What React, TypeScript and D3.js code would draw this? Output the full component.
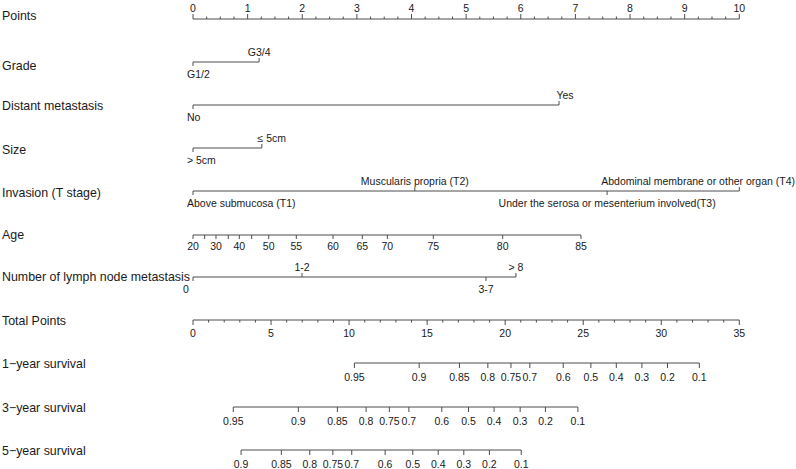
import React from 'react';
import * as d3 from 'd3';

// ---- Data ----
const pointsTicks = [0, 1, 2, 3, 4, 5, 6, 7, 8, 9, 10];
const pointsMinor = [0.25, 0.5, 0.75, 1.25, 1.5, 1.75, 2.25, 2.5, 2.75, 3.25, 3.5, 3.75, 4.25, 4.5, 4.75, 5.25, 5.5, 5.75, 6.25, 6.5, 6.75, 7.25, 7.5, 7.75, 8.25, 8.5, 8.75, 9.25, 9.5, 9.75];

const gradeLevels = ['G1/2', 'G3/4'];
const gradePoints = [0, 1.21];

const metastasisLevels = ['No', 'Yes'];
const metastasisPoints = [0, 6.7];

const sizeLevels = ['> 5cm', '\u2264 5cm'];
const sizePoints = [0, 1.26];

const invasionLevels = [
  'Above submucosa (T1)',
  'Muscularis propria (T2)',
  'Under the serosa or mesenterium involved(T3)',
  'Abdominal membrane or other organ (T4)',
];
const invasionPoints = [0, 4.06, 7.58, 10];

const ageValues = [20, 25, 30, 35, 40, 45, 50, 55, 60, 65, 70, 75, 80, 85];
const agePoints = [0, 0.214, 0.421, 0.646, 0.848, 1.074, 1.386, 1.891, 2.563, 3.099, 3.557, 4.399, 5.669, 7.102];
const ageLabelled = [20, 30, 40, 50, 55, 60, 65, 70, 75, 80, 85];

const lymphLevels = ['0', '1-2', '3-7', '> 8'];
const lymphPoints = [0, 1.995, 5.363, 5.912];

const totalTicks = [0, 5, 10, 15, 20, 25, 30, 35];
const totalMinor = [1, 2, 3, 4, 6, 7, 8, 9, 11, 12, 13, 14, 16, 17, 18, 19, 21, 22, 23, 24, 26, 27, 28, 29, 31, 32, 33, 34];

const surv1Labels = ['0.95', '0.9', '0.85', '0.8', '0.75', '0.7', '0.6', '0.5', '0.4', '0.3', '0.2', '0.1'];
const surv1Total = [10.34, 14.49, 17.07, 18.89, 20.37, 21.58, 23.72, 25.49, 27.12, 28.76, 30.4, 32.44];

const surv3Labels = ['0.95', '0.9', '0.85', '0.8', '0.75', '0.7', '0.6', '0.5', '0.4', '0.3', '0.2', '0.1'];
const surv3Total = [2.58, 6.75, 9.25, 11.09, 12.58, 13.83, 15.94, 17.65, 19.29, 20.96, 22.58, 24.66];

const surv5Labels = ['0.9', '0.85', '0.8', '0.75', '0.7', '0.6', '0.5', '0.4', '0.3', '0.2', '0.1'];
const surv5Total = [3.08, 5.66, 7.48, 8.96, 10.17, 12.31, 14.08, 15.71, 17.35, 18.99, 21.03];

// ---- Layout ----
const W = 796;
const H = 469;
const FONT = '"Liberation Sans", Arial, Helvetica, sans-serif';
const LINE = '#4d4d4d';
const TEXT = '#1a1a1a';
const TITLE_SIZE = 12.4;
const TICK_SIZE = 10.5;

const xPts = d3.scaleLinear().domain([0, 10]).range([193, 739.3]);
const xTot = d3.scaleLinear().domain([0, 35]).range([193, 739.3]);

type Cat = { title: string; levels: string[]; pts: number[]; y: number; ty: number };

const catRows: Cat[] = [
  { title: 'Grade', levels: gradeLevels, pts: gradePoints, y: 62, ty: 65 },
  { title: 'Distant metastasis', levels: metastasisLevels, pts: metastasisPoints, y: 105, ty: 105.5 },
  { title: 'Size', levels: sizeLevels, pts: sizePoints, y: 148, ty: 149 },
  { title: 'Invasion (T stage)', levels: invasionLevels, pts: invasionPoints, y: 191, ty: 192 },
  { title: 'Number of lymph node metastasis', levels: lymphLevels, pts: lymphPoints, y: 277, ty: 276.3 },
];

function textWidth(s: string, size: number): number {
  if (typeof document === 'undefined') return s.length * size * 0.5;
  const c = (textWidth as any).c || ((textWidth as any).c = document.createElement('canvas'));
  const ctx = c.getContext('2d');
  ctx.font = `${size}px ${FONT}`;
  return ctx.measureText(s).width;
}

function CatRow({ row }: { row: Cat }) {
  const x0 = xPts(d3.min(row.pts) as number);
  const x1 = xPts(d3.max(row.pts) as number);
  return (
    <g>
      <text x={2} y={row.ty + 4.5} fontSize={TITLE_SIZE} fill={TEXT}>{row.title}</text>
      <line x1={x0} x2={x1} y1={row.y} y2={row.y} stroke={LINE} />
      {row.levels.map((lab, i) => {
        const x = xPts(row.pts[i]);
        const above = i % 2 === 1;
        const w = textWidth(lab, TICK_SIZE);
        let cx = x;
        if (i === 0) cx = lab.length === 1 ? x - 7 : x - 6 + w / 2;
        if (cx + w / 2 > W - 1) cx = W - 1 - w / 2;
        if (row.title === 'Size' && i === 1) cx = x + 10;
        if (row.title === 'Distant metastasis' && i === 1) cx = x + 6;
        return (
          <g key={lab}>
            <line x1={x} x2={x} y1={row.y} y2={above ? row.y - 4 : row.y + 4} stroke={LINE} />
            <text x={cx} y={above ? row.y - 6 : row.y + 16} fontSize={TICK_SIZE} fill={TEXT} textAnchor="middle">{lab}</text>
          </g>
        );
      })}
    </g>
  );
}

function ProbRow({ title, labels, totals, y }: { title: string; labels: string[]; totals: number[]; y: number }) {
  const xs = totals.map((t) => xTot(t));
  return (
    <g>
      <text x={2} y={y + 4.5} fontSize={TITLE_SIZE} fill={TEXT}>{title}</text>
      <line x1={d3.min(xs)} x2={d3.max(xs)} y1={y} y2={y} stroke={LINE} />
      {labels.map((lab, i) => (
        <g key={lab}>
          <line x1={xs[i]} x2={xs[i]} y1={y} y2={y + 5} stroke={LINE} />
          <text x={xs[i]} y={y + 18} fontSize={TICK_SIZE} fill={TEXT} textAnchor="middle">{lab}</text>
        </g>
      ))}
    </g>
  );
}

export default function App() {
  const ageScale = d3.scaleLinear().domain(ageValues).range(agePoints.map((p) => xPts(p)));
  const ageY = 235;
  const ptsY = 19;
  const totY = 320;
  return (
    <svg width={W} height={H} style={{ position: 'absolute', left: 0, top: 0, fontFamily: FONT }}>
      <rect width={W} height={H} fill="#fff" />
      {/* Points */}
      <text x={2} y={ptsY + 0.5} fontSize={TITLE_SIZE} fill={TEXT}>Points</text>
      <line x1={xPts(0)} x2={xPts(10)} y1={ptsY} y2={ptsY} stroke={LINE} />
      {pointsTicks.map((t) => (
        <g key={'p' + t}>
          <line x1={xPts(t)} x2={xPts(t)} y1={ptsY} y2={ptsY - 5} stroke={LINE} />
          <text x={xPts(t)} y={ptsY - 7} fontSize={TICK_SIZE} fill={TEXT} textAnchor="middle">{t}</text>
        </g>
      ))}
      {pointsMinor.map((t) => (
        <line key={'pm' + t} x1={xPts(t)} x2={xPts(t)} y1={ptsY} y2={ptsY - 2.5} stroke={LINE} />
      ))}

      {catRows.map((r) => <CatRow key={r.title} row={r} />)}

      {/* Age */}
      <text x={2} y={ageY + 3.5} fontSize={TITLE_SIZE} fill={TEXT}>Age</text>
      <line x1={ageScale(20)} x2={ageScale(85)} y1={ageY} y2={ageY} stroke={LINE} />
      {ageValues.map((a) => (
        <g key={'a' + a}>
          <line x1={ageScale(a)} x2={ageScale(a)} y1={ageY} y2={ageY + 4} stroke={LINE} />
          {ageLabelled.includes(a) && (
            <text x={ageScale(a)} y={ageY + 15} fontSize={TICK_SIZE} fill={TEXT} textAnchor="middle">{a}</text>
          )}
        </g>
      ))}

      {/* Total Points */}
      <text x={2} y={totY + 4.5} fontSize={TITLE_SIZE} fill={TEXT}>Total Points</text>
      <line x1={xTot(0)} x2={xTot(35)} y1={totY} y2={totY} stroke={LINE} />
      {totalTicks.map((t) => (
        <g key={'t' + t}>
          <line x1={xTot(t)} x2={xTot(t)} y1={totY} y2={totY + 5} stroke={LINE} />
          <text x={xTot(t)} y={totY + 17} fontSize={TICK_SIZE} fill={TEXT} textAnchor="middle">{t}</text>
        </g>
      ))}
      {totalMinor.map((t) => (
        <line key={'tm' + t} x1={xTot(t)} x2={xTot(t)} y1={totY} y2={totY + 2.5} stroke={LINE} />
      ))}

      <ProbRow title={'1\u2212year survival'} labels={surv1Labels} totals={surv1Total} y={363} />
      <ProbRow title={'3\u2212year survival'} labels={surv3Labels} totals={surv3Total} y={407} />
      <ProbRow title={'5\u2212year survival'} labels={surv5Labels} totals={surv5Total} y={450} />
    </svg>
  );
}
